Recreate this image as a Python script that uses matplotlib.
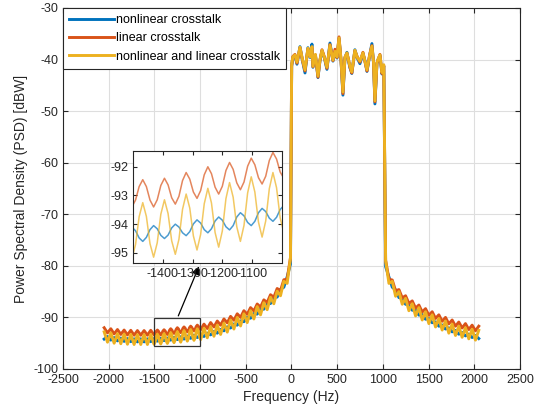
import numpy as np
import matplotlib.pyplot as plt
from matplotlib.patches import Rectangle

plt.rcParams['font.family'] = ['Liberation Sans', 'DejaVu Sans']
plt.rcParams['axes.unicode_minus'] = False

# frequency grids (Hz) - left sideband is sampled finer inside the zoomed window
f_left_a = np.linspace(-2049.4, -1539.8, 15)
f_left_b = np.linspace(-1503.4, -993.8, 43)
f_left_c = np.linspace(-957.4, -11.0, 27)
f_band = [2, 15, 38, 60, 93, 120, 148, 180, 205, 224, 235, 262, 290, 312, 334, 360,
          388, 421, 454, 476, 498, 520, 542, 563, 585, 607, 625, 640, 660, 694, 720,
          749, 782, 805, 826, 855, 880, 898, 913, 935, 950, 968, 990, 1010]
f_right = np.linspace(1030.0, 2049.2, 29)

# linear crosstalk (dBW)
lin_left_a = [-92.0, -93.0, -92.2, -93.2, -92.35, -93.3, -92.45, -93.4, -92.5, -93.45,
              -92.55, -93.45, -92.55, -93.45, -92.5]
lin_left_b = [-93.4, -93.16, -92.69, -92.45, -92.69, -93.16, -93.4, -93.15, -92.65,
              -92.4, -92.63, -93.08, -93.3, -93.03, -92.48, -92.2, -92.43, -92.88,
              -93.1, -92.83, -92.28, -92.0, -92.24, -92.71, -92.95, -92.68, -92.13,
              -91.85, -92.09, -92.56, -92.8, -92.53, -91.98, -91.7, -91.93, -92.38,
              -92.6, -92.33, -91.78, -91.5, -91.73, -92.18, -92.4]
lin_left_c = [-91.3, -92.15, -91.0, -91.85, -90.7, -91.5, -90.3, -91.05, -89.8, -90.55,
              -89.3, -90.0, -88.7, -89.4, -88.1, -88.75, -87.4, -88.0, -86.6, -87.1,
              -85.6, -86.1, -84.4, -84.8, -82.7, -82.6, -78.4]
lin_band = [-41.2, -39.4, -39.0, -40.7, -37.7, -40.1, -42.2, -37.9, -39.4, -37.6, -41.4,
            -39.1, -43.4, -40.1, -38.1, -39.5, -41.7, -37.1, -40.2, -38.0, -39.6, -35.6,
            -40.1, -46.6, -39.6, -38.8, -40.1, -41.5, -42.6, -38.3, -39.5, -40.5, -38.6,
            -40.5, -42.2, -39.1, -37.3, -40.6, -48.2, -40.7, -39.9, -39.0, -42.7, -41.2]
lin_right = [-78.9, -82.6, -82.75, -84.85, -84.6, -86.2, -85.8, -87.3, -86.8, -88.2,
             -87.6, -88.95, -88.3, -89.6, -88.9, -90.2, -89.5, -90.75, -90.0, -91.25,
             -90.5, -91.7, -90.9, -92.05, -91.2, -92.35, -91.5, -92.6, -91.7]

# nonlinear and linear crosstalk
both_left_a = [-92.8, -94.8, -93.0, -95.0, -93.15, -95.1, -93.25, -95.2, -93.3, -95.25,
               -93.35, -95.25, -93.35, -95.25, -93.3]
both_left_b = [-95.2, -94.71, -93.74, -93.25, -93.73, -94.68, -95.15, -94.65, -93.65,
               -93.15, -93.63, -94.58, -95.05, -94.53, -93.48, -92.95, -93.44, -94.41,
               -94.9, -94.36, -93.29, -92.75, -93.26, -94.29, -94.8, -94.24, -93.11,
               -92.55, -93.06, -94.09, -94.6, -94.04, -92.91, -92.35, -92.88, -93.93,
               -94.45, -93.89, -92.76, -92.2, -92.73, -93.78, -94.3]
both_left_c = [-92.1, -93.95, -91.8, -93.65, -91.5, -93.3, -91.1, -92.85, -90.5, -92.25,
               -90.0, -91.65, -89.3, -91.0, -88.7, -90.3, -87.9, -89.5, -87.15, -88.5,
               -86.1, -87.35, -84.9, -85.8, -83.0, -83.4, -78.5]
both_band = [-41.0, -39.5, -39.1, -40.5, -37.6, -40.0, -42.0, -37.8, -39.5, -37.5, -41.3,
             -39.0, -43.2, -40.0, -38.2, -39.6, -41.5, -37.2, -40.1, -38.4, -39.5, -35.8,
             -40.0, -46.3, -39.5, -38.7, -40.2, -41.3, -42.4, -38.2, -39.6, -40.3, -38.7,
             -40.4, -42.0, -39.2, -37.4, -40.5, -48.0, -40.6, -39.8, -39.1, -42.5, -41.0]
both_right = [-79.0, -83.4, -83.0, -85.9, -85.0, -87.45, -86.3, -88.7, -87.35, -89.7,
              -88.1, -90.5, -88.9, -91.2, -89.5, -91.85, -90.2, -92.45, -90.7, -93.05,
              -91.3, -93.5, -91.7, -93.85, -92.0, -94.15, -92.3, -94.4, -92.5]

# nonlinear crosstalk
nl_left_a = [-94.2, -93.7, -94.4, -93.9, -94.55, -94.0, -94.65, -94.1, -94.7, -94.15,
             -94.75, -94.15, -94.75, -94.15, -94.7]
nl_left_b = [-94.1, -94.23, -94.48, -94.6, -94.46, -94.19, -94.05, -94.16, -94.39,
             -94.5, -94.38, -94.13, -94.0, -94.1, -94.3, -94.4, -94.26, -93.99,
             -93.85, -93.96, -94.19, -94.3, -94.16, -93.89, -93.75, -93.86, -94.09,
             -94.2, -94.05, -93.75, -93.6, -93.71, -93.94, -94.05, -93.9, -93.6,
             -93.45, -93.56, -93.79, -93.9, -93.76, -93.49, -93.35]
nl_left_c = [-93.7, -93.05, -93.38, -92.72, -93.05, -92.32, -92.6, -91.82, -92.05, -91.27,
             -91.5, -90.67, -90.83, -90.0, -90.15, -89.25, -89.35, -88.37, -88.4, -87.33,
             -87.3, -86.12, -86.05, -84.55, -84.15, -82.15, -79.65]
nl_band = [-41.3, -39.6, -39.2, -40.9, -37.5, -40.2, -42.6, -37.7, -39.6, -37.0, -41.5,
           -39.2, -43.5, -40.2, -38.3, -39.7, -41.9, -36.8, -40.3, -38.5, -39.7, -35.9,
           -40.2, -46.9, -39.7, -38.6, -40.4, -41.6, -42.7, -38.1, -39.7, -40.8, -38.8,
           -40.3, -42.3, -39.3, -36.9, -40.7, -48.6, -40.8, -39.9, -39.2, -42.8, -41.3]
nl_right = [-80.15, -82.15, -84.15, -84.65, -86.15, -86.27, -87.45, -87.53, -88.6, -88.57,
            -89.55, -89.45, -90.35, -90.2, -91.03, -90.87, -91.7, -91.47, -92.25, -92.02,
            -92.8, -92.52, -93.25, -92.92, -93.58, -93.25, -93.9, -93.5, -94.1]

freq = np.concatenate([f_left_a, f_left_b, f_left_c, f_band, f_right])
psd_nl = np.concatenate([nl_left_a, nl_left_b, nl_left_c, nl_band, nl_right])
psd_lin = np.concatenate([lin_left_a, lin_left_b, lin_left_c, lin_band, lin_right])
psd_both = np.concatenate([both_left_a, both_left_b, both_left_c, both_band, both_right])

labels = ['nonlinear crosstalk', 'linear crosstalk', 'nonlinear and linear crosstalk']
colors = ['#0072BD', '#D95319', '#EDB120']
series = [psd_nl, psd_lin, psd_both]

# zoom window
zx = [-1500, -1000]
zy = [-95.6, -90.2]

fig = plt.figure(figsize=(5.36, 4.16), dpi=100)
ax = fig.add_axes([0.1175, 0.113, 0.8526, 0.8678])

for y, c, lab in zip(series, colors, labels):
    ax.plot(freq, y, color=c, lw=2.1, label=lab)

ax.set_xlim(-2500, 2500)
ax.set_ylim(-100, -30)
ax.set_xticks(np.arange(-2500, 2501, 500))
ax.set_yticks(np.arange(-100, -29, 10))
ax.grid(True, color='#dedede', lw=0.8)
ax.set_axisbelow(True)
ax.tick_params(direction='in', length=3.5, labelsize=9, colors='#262626',
               top=True, right=True)
for s in ax.spines.values():
    s.set_color('#262626')
    s.set_linewidth(0.8)
ax.set_xlabel('Frequency (Hz)', fontsize=10, color='#262626', labelpad=3)
ax.set_ylabel('Power Spectral Density (PSD) [dBW]', fontsize=10, color='#262626', labelpad=4)

leg = ax.legend(loc='upper left', bbox_to_anchor=(0, 1), borderaxespad=0, fontsize=9,
                fancybox=False, framealpha=1, edgecolor='#262626', handlelength=3.6,
                handletextpad=0.15, labelspacing=0.5, borderpad=0.5)
leg.get_frame().set_linewidth(0.8)

# box marking the zoomed region
ax.add_patch(Rectangle((zx[0], zy[0]), zx[1] - zx[0], zy[1] - zy[0], fill=False,
                       edgecolor='#333333', lw=0.9, zorder=5))
ax.annotate('', xy=(-1000, -79.6), xytext=(-1250, -90.2),
            arrowprops=dict(arrowstyle='-|>', color='black', lw=0.9, mutation_scale=12),
            zorder=6)

# inset
ins = fig.add_axes([0.248, 0.368, 0.278, 0.269])
for y, c in zip(series, colors):
    ins.plot(freq, y, color=c, lw=1.1, alpha=0.7)
ins.set_xlim(-1500, -1000)
ins.set_ylim(-95.35, -91.45)
ins.set_xticks([-1400, -1300, -1200, -1100])
ins.set_yticks([-95, -94, -93, -92])
ins.tick_params(direction='in', length=3, labelsize=9, colors='#262626', top=True, right=True)
for s in ins.spines.values():
    s.set_color('#262626')
    s.set_linewidth(0.8)

fig.savefig('out.png', dpi=100)
